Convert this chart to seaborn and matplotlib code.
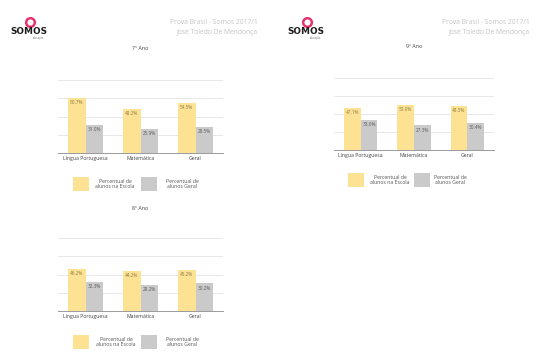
import pandas as pd
import matplotlib
matplotlib.use("Agg")
import matplotlib.pyplot as plt
import seaborn as sns
from matplotlib.patches import Rectangle
from matplotlib.lines import Line2D

# ==========================
# DATA
# ==========================

materias = ["Língua Portuguesa", "Matemática", "Geral"]
series = ["Percentual de\nalunos na Escola", "Percentual de\nalunos Geral"]

ano7_escola = [60.7, 48.2, 54.5]
ano7_geral = [31.0, 25.9, 28.5]

ano8_escola = [46.2, 44.2, 45.2]
ano8_geral = [32.3, 28.2, 30.2]

ano9_escola = [47.1, 50.0, 48.5]
ano9_geral = [33.6, 27.3, 30.4]

titulos = ["7º Ano", "8º Ano", "9º Ano"]

AMARELO = "#fde293"
CINZA = "#cacaca"
TXT_AMARELO = "#8f7d45"
TXT_CINZA = "#5e5e5e"
ROSA = "#e6336f"
CLARO = "#c4c4c4"

W, H = 540, 364


def rect(x0, y0, x1, y1):
    # pixel box (top-left origin) -> figure fraction
    return [x0 / W, 1 - y1 / H, (x1 - x0) / W, (y1 - y0) / H]


def fx(x):
    return x / W


def fy(y):
    return 1 - y / H


def monta_df(escola, geral):
    rows = []
    for m, v in zip(materias, escola):
        rows.append({"materia": m, "serie": series[0], "valor": v})
    for m, v in zip(materias, geral):
        rows.append({"materia": m, "serie": series[1], "valor": v})
    return pd.DataFrame(rows)


sns.set_style("white")
plt.rcParams["font.family"] = ["Open Sans", "DejaVu Sans"]

fig = plt.figure(figsize=(W / 100, H / 100), dpi=100)


def grafico(box, escola, geral, titulo, titulo_y):
    ax = fig.add_axes(rect(*box))
    df = monta_df(escola, geral)
    sns.barplot(data=df, x="materia", y="valor", hue="serie",
                palette=[AMARELO, CINZA], width=0.63, saturation=1,
                gap=0, legend=False, linewidth=0, ax=ax)
    ax.set_ylim(0, 80)
    ax.set_yticks([20, 40, 60, 80])
    ax.set_yticklabels([])
    ax.tick_params(axis="y", length=0)
    ax.tick_params(axis="x", length=0, labelsize=3.7, colors="#444444", pad=2)
    ax.grid(axis="y", color="#e3e3e3", linewidth=0.6)
    ax.set_axisbelow(True)
    for s in ["top", "right", "left"]:
        ax.spines[s].set_visible(False)
    ax.spines["bottom"].set_color("#9a9a9a")
    ax.spines["bottom"].set_linewidth(0.7)
    ax.set_xlabel("")
    ax.set_ylabel("")
    for cont, cor in zip(ax.containers, [TXT_AMARELO, TXT_CINZA]):
        for bar in cont:
            h = bar.get_height()
            ax.annotate(f"{h:.1f}%", (bar.get_x() + bar.get_width() / 2, h),
                        xytext=(0, -1.5), textcoords="offset points",
                        ha="center", va="top", fontsize=3.4, color=cor)
    cx = (box[0] + box[2]) / 2
    fig.text(fx(cx), fy(titulo_y), titulo, ha="center", va="center",
             fontsize=3.9, color="#444444")
    return ax


def legenda(x_am, x_ci, y0, y1, tx_am, tx_ci):
    fig.add_artist(Rectangle((fx(x_am), fy(y1)), 16 / W, (y1 - y0) / H,
                             transform=fig.transFigure, color=AMARELO, lw=0))
    fig.add_artist(Rectangle((fx(x_ci), fy(y1)), 16 / W, (y1 - y0) / H,
                             transform=fig.transFigure, color=CINZA, lw=0))
    ym = (y0 + y1) / 2
    fig.text(fx(tx_am), fy(ym), series[0], ha="center", va="center",
             multialignment="center", fontsize=3.7, color="#555555",
             linespacing=1.1)
    fig.text(fx(tx_ci), fy(ym), series[1], ha="center", va="center",
             multialignment="center", fontsize=3.7, color="#555555",
             linespacing=1.1)


def cabecalho(x_logo, x_dir):
    # pink ring of the logo
    fig.add_artist(Line2D([fx(x_logo + 20)], [fy(22)], marker="o",
                          markersize=6.2, markerfacecolor="none",
                          markeredgecolor=ROSA, markeredgewidth=1.8,
                          transform=fig.transFigure))
    fig.text(fx(x_logo), fy(31.5), "SOMOS", ha="left", va="center",
             fontsize=6.4, fontweight="bold", color="#1e1e1e",
             family=["DejaVu Sans"])
    fig.text(fx(x_logo + 23), fy(37.5), "educação", ha="left", va="center",
             fontsize=1.8, color="#666666")
    fig.text(fx(x_dir), fy(22), "Prova Brasil - Somos 2017/1", ha="right",
             va="center", fontsize=4.9, color=CLARO)
    fig.text(fx(x_dir), fy(33), "José Toledo De Mendonça", ha="right",
             va="center", fontsize=4.9, color=CLARO)


# ==========================
# LEFT PAGE
# ==========================

cabecalho(10, 258)
grafico((58, 80, 223, 153), ano7_escola, ano7_geral, titulos[0], 49)
legenda(73, 141, 177, 191, 115, 182)
grafico((58, 238, 223, 311), ano8_escola, ano8_geral, titulos[1], 208)
legenda(73, 141, 335, 349, 116, 182)

# ==========================
# RIGHT PAGE
# ==========================

cabecalho(287, 530)
grafico((334, 78, 494, 150), ano9_escola, ano9_geral, titulos[2], 47)
legenda(348, 414, 173, 187, 390, 450)

fig.savefig("out.png", dpi=100)
plt.close(fig)
